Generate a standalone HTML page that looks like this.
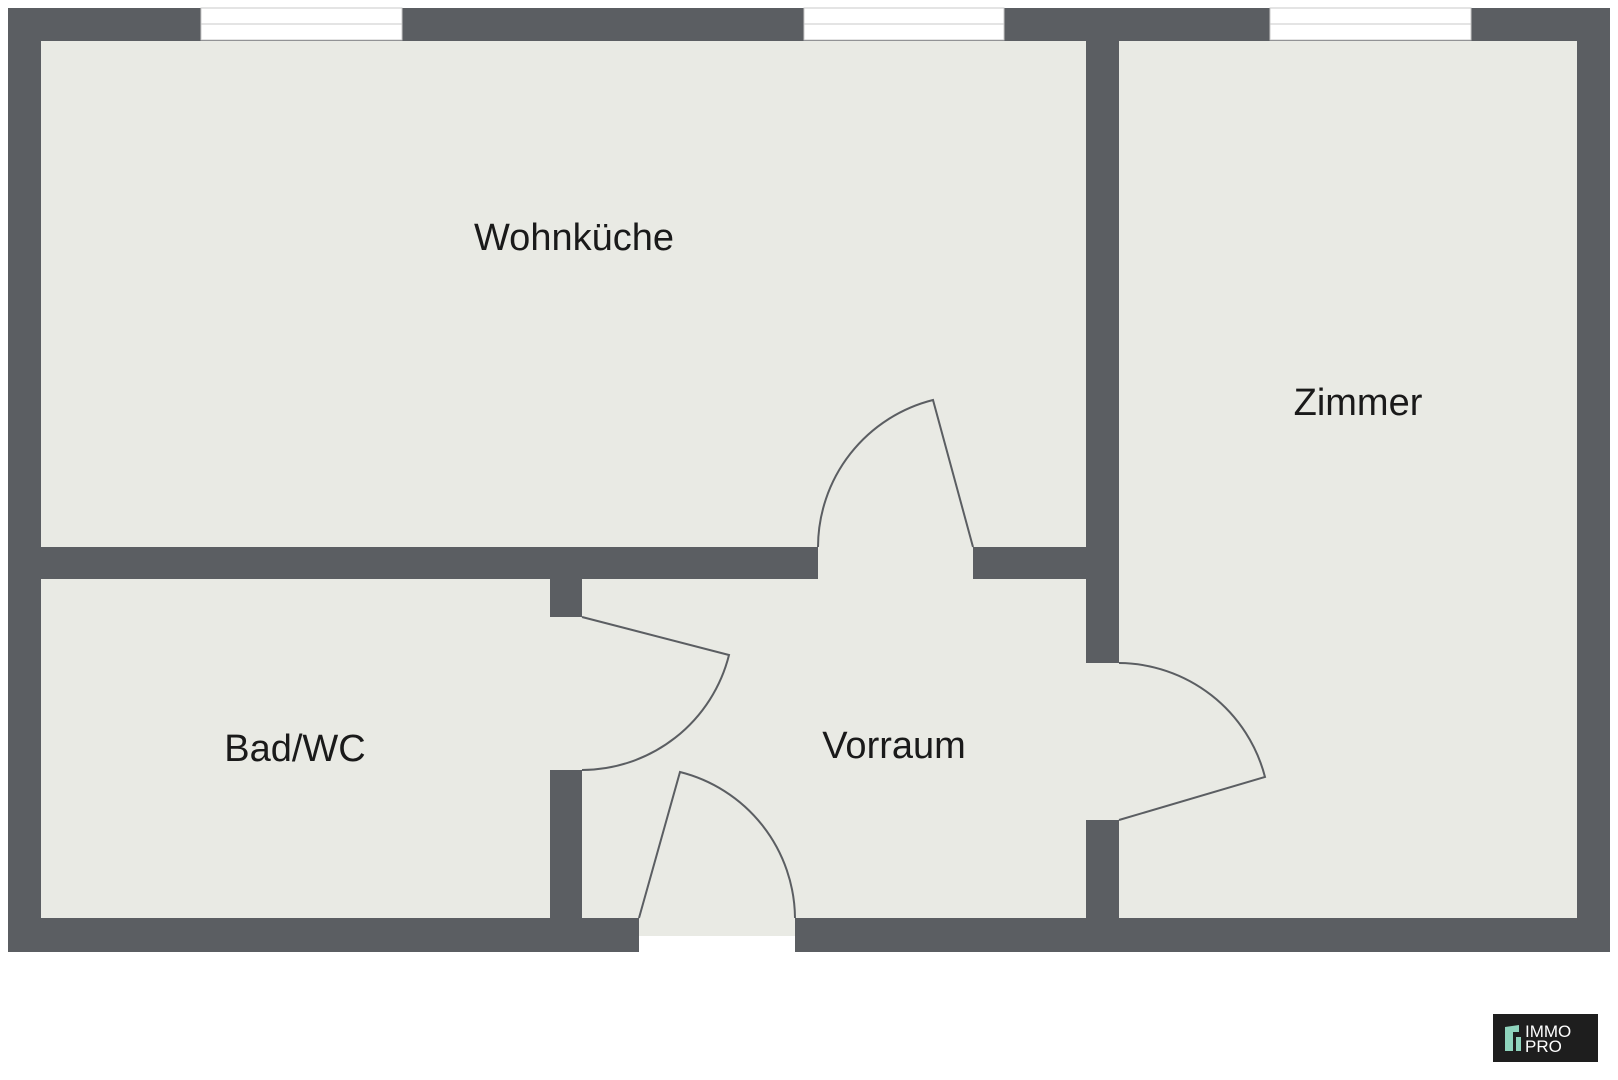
<!DOCTYPE html>
<html><head><meta charset="utf-8"><style>
body{margin:0;background:#fff;}
svg{display:block}
text{font-family:"Liberation Sans",sans-serif;fill:#1a1a1a}
</style></head><body>
<svg width="1618" height="1080" viewBox="0 0 1618 1080">
<rect x="8" y="8" width="1602" height="944" fill="#5b5e62"/>
<rect x="41" y="41" width="1045" height="506" fill="#e9eae4"/>
<rect x="1119" y="41" width="458" height="877" fill="#e9eae4"/>
<rect x="41" y="579" width="509" height="339" fill="#e9eae4"/>
<rect x="582" y="579" width="504" height="339" fill="#e9eae4"/>
<rect x="818" y="545" width="155" height="36" fill="#e9eae4"/>
<rect x="548" y="617" width="36" height="153" fill="#e9eae4"/>
<rect x="1084" y="663" width="37" height="157" fill="#e9eae4"/>
<rect x="639" y="916" width="156" height="20" fill="#e9eae4"/>
<rect x="639" y="936" width="156" height="18" fill="#fff"/>
<g fill="#fff" stroke="#c8c8c8" stroke-width="1">
<rect x="201" y="8" width="201" height="32"/>
<rect x="804" y="8" width="200" height="32"/>
<rect x="1270" y="8" width="201" height="32"/>
</g>
<g stroke="#c8c8c8" stroke-width="1">
<line x1="201" y1="24" x2="402" y2="24"/><line x1="804" y1="24" x2="1004" y2="24"/><line x1="1270" y1="24" x2="1471" y2="24"/>
</g>
<g fill="none" stroke="#5b5e62" stroke-width="2">
<path d="M973 547 L933 400 A152 152 0 0 0 818 547"/>
<path d="M582 617 L729 655 A152 152 0 0 1 582 770"/>
<path d="M1119 820 L1265 777 A152 152 0 0 0 1119 663"/>
<path d="M639 918 L680 772 A152 152 0 0 1 795 918"/>
</g>
<text x="574" y="250" font-size="38" text-anchor="middle">Wohnküche</text>
<text x="1358" y="415" font-size="38" text-anchor="middle">Zimmer</text>
<text x="295" y="761" font-size="38" text-anchor="middle">Bad/WC</text>
<text x="894" y="758" font-size="38" text-anchor="middle">Vorraum</text>
<rect x="1493" y="1014" width="105" height="48" fill="#1e1e1e"/>
<path d="M1505 1027 L1519 1025 L1519 1032 L1513 1032 L1513 1051 L1505 1051 Z" fill="#8fd4bd"/>
<rect x="1516" y="1037" width="5" height="14" fill="#8fd4bd"/>
<text x="1525" y="1037" font-size="17" style="fill:#fff">IMMO</text>
<text x="1525" y="1052" font-size="17" style="fill:#fff">PRO</text>
</svg>
</body></html>
